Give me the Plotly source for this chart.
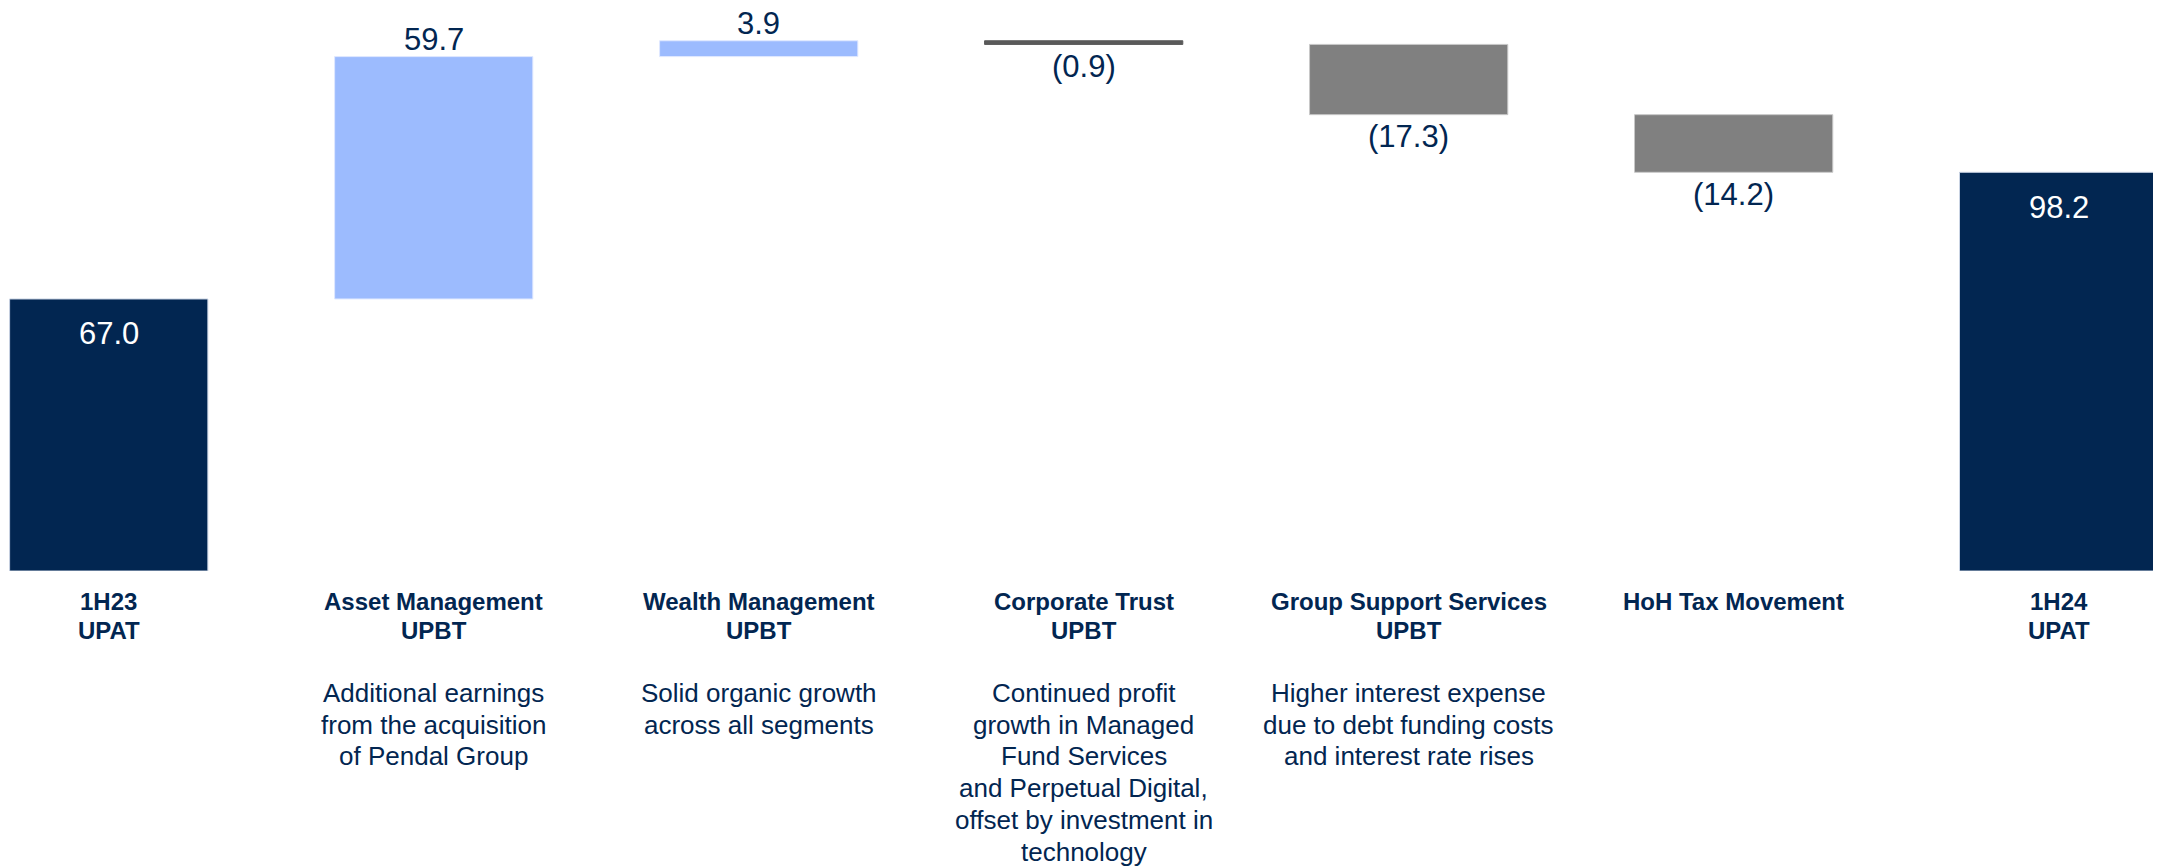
import plotly.graph_objects as go

# ---- data ----
categories = ["1H23", "AM", "WM", "CT", "GSS", "HoH", "1H24"]
measures = ["total", "relative", "relative", "relative", "relative", "relative", "total"]
values = [67.0, 59.7, 3.9, -0.9, -17.3, -14.2, 98.2]
value_labels = ["67.0", "59.7", "3.9", "(0.9)", "(17.3)", "(14.2)", "98.2"]
bold_labels = [
    ["1H23", "UPAT"],
    ["Asset Management", "UPBT"],
    ["Wealth Management", "UPBT"],
    ["Corporate Trust", "UPBT"],
    ["Group Support Services", "UPBT"],
    ["HoH Tax Movement"],
    ["1H24", "UPAT"],
]
descriptions = [
    [],
    ["Additional earnings", "from the acquisition", "of Pendal Group"],
    ["Solid organic growth", "across all segments"],
    ["Continued profit", "growth in Managed", "Fund Services", "and Perpetual Digital,",
     "offset by investment in", "technology"],
    ["Higher interest expense", "due to debt funding costs", "and interest rate rises"],
    [],
    [],
]

# ---- styles ----
NAVY = "#022651"
LIGHT = "#9CBBFE"
GREY = "#808080"
DARKLINE = "#5a5a5a"
FONT = "Arial, Liberation Sans, Helvetica, sans-serif"

colors, line_colors, bases, heights, ends = [], [], [], [], []
running = 0.0
for m, v in zip(measures, values):
    if m == "total":
        bases.append(0.0)
        heights.append(v)
        running = v
        colors.append(NAVY)
        line_colors.append("#c9d3e3")
        ends.append(v)
    else:
        bases.append(running)
        heights.append(v)
        running += v
        if v >= 0:
            colors.append(LIGHT)
            line_colors.append("#dfe8ff")
        else:
            if abs(v) < 2:
                colors.append(DARKLINE)
                line_colors.append(DARKLINE)
            else:
                colors.append(GREY)
                line_colors.append("#c8c8c8")
        ends.append(running)

fig = go.Figure(go.Bar(
    x=categories, y=heights, base=bases, width=0.61,
    marker=dict(color=colors, line=dict(color=line_colors, width=1)),
    hoverinfo="skip",
))

annotations = []
for i, (cat, m, v, lbl) in enumerate(zip(categories, measures, values, value_labels)):
    if m == "total":
        annotations.append(dict(x=cat, y=ends[i], xref="x", yref="y", text=lbl, showarrow=False,
                                yanchor="middle", yshift=-35, font=dict(family=FONT, size=31, color="white")))
    elif v >= 0:
        annotations.append(dict(x=cat, y=ends[i], xref="x", yref="y", text=lbl, showarrow=False,
                                yanchor="middle", yshift=17.5, font=dict(family=FONT, size=31, color=NAVY)))
    else:
        annotations.append(dict(x=cat, y=ends[i], xref="x", yref="y", text=lbl, showarrow=False,
                                yanchor="middle", yshift=-22, font=dict(family=FONT, size=31, color=NAVY)))

for i, cat in enumerate(categories):
    for j, line in enumerate(bold_labels[i]):
        annotations.append(dict(x=cat, y=0, xref="x", yref="paper", text="<b>%s</b>" % line,
                                showarrow=False, yanchor="middle", yshift=-(30.7 + 28.3 * j),
                                font=dict(family=FONT, size=24, color=NAVY)))
    for j, line in enumerate(descriptions[i]):
        annotations.append(dict(x=cat, y=0, xref="x", yref="paper", text=line,
                                showarrow=False, yanchor="middle", yshift=-(121.7 + 31.8 * j),
                                font=dict(family=FONT, size=26, color=NAVY)))

fig.update_layout(
    width=2153, height=860,
    margin=dict(l=0, r=0, t=0, b=297),
    paper_bgcolor="white", plot_bgcolor="white",
    showlegend=False,
    xaxis=dict(type="category", range=[-0.31, 6.315], visible=False, fixedrange=True),
    yaxis=dict(range=[0, 138.67], visible=False, fixedrange=True),
    annotations=annotations,
)

fig.write_html("out.html")
